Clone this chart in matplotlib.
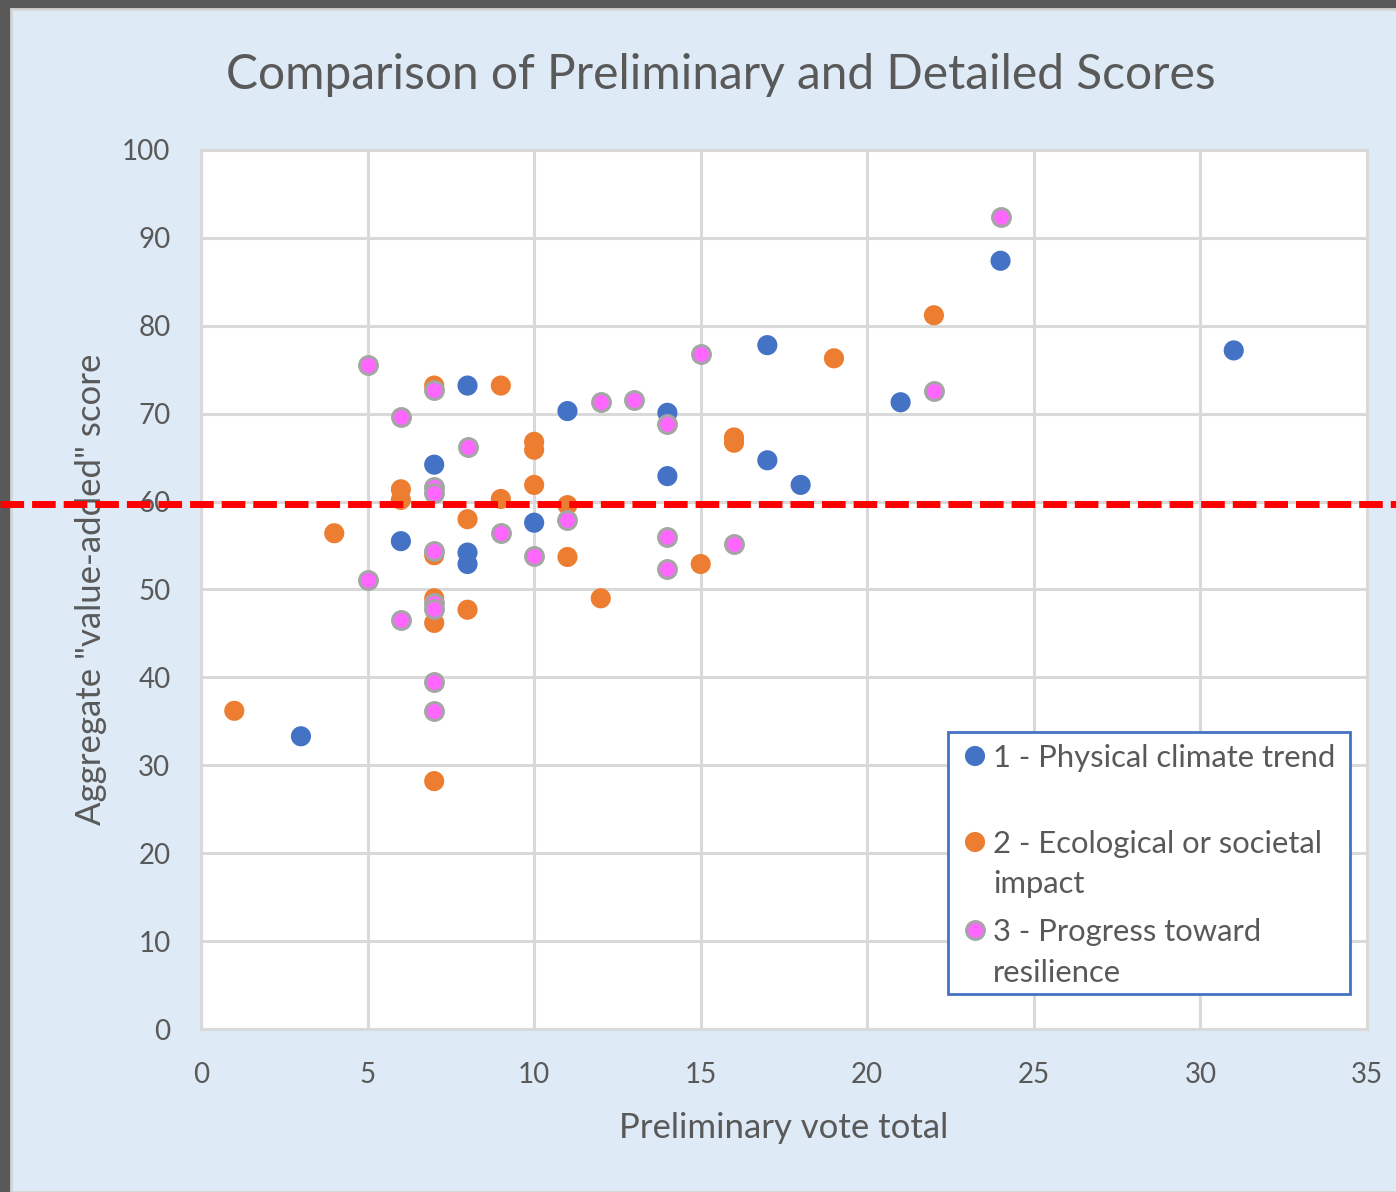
import matplotlib
matplotlib.use('Agg')
import matplotlib.pyplot as plt
from matplotlib.patches import Rectangle

plt.rcParams['font.family'] = ['Lato', 'DejaVu Sans']

# series 1 - Physical climate trend
votes_1 = [3, 6, 7, 8, 8, 8, 10, 11, 14, 14, 17, 17, 18, 21, 24, 31]
score_1 = [33.3, 55.5, 64.2, 73.2, 54.2, 52.9, 57.6, 70.3, 70.1, 62.9, 77.8, 64.7, 61.9, 71.3, 87.4, 77.2]

# series 2 - Ecological or societal impact
votes_2 = [1, 4, 6, 6, 7, 7, 7, 7, 7, 8, 8, 9, 9, 10, 10, 10, 11, 11, 12, 15, 16, 16, 19, 22]
score_2 = [36.2, 56.4, 61.4, 60.2, 73.2, 53.9, 49.0, 46.2, 28.2, 58.0, 47.7, 73.2, 60.3,
           66.8, 65.9, 61.9, 59.6, 53.7, 49.0, 52.9, 67.3, 66.7, 76.3, 81.2]

# series 3 - Progress toward resilience
votes_3 = [5, 5, 6, 6, 7, 7, 7, 7, 7, 7, 7, 7, 8, 9, 10, 11, 12, 13, 14, 14, 14, 15, 16, 22, 24]
score_3 = [75.5, 51.1, 69.6, 46.5, 72.7, 61.7, 61.0, 54.4, 48.5, 47.8, 39.5, 36.2, 66.2,
           56.4, 53.8, 57.9, 71.3, 71.6, 68.8, 56.0, 52.3, 76.8, 55.2, 72.6, 92.4]

labels = [['1 - Physical climate trend', ''],
          ['2 - Ecological or societal', 'impact'],
          ['3 - Progress toward', 'resilience']]
threshold = 59.7

grey = '#595959'
fig = plt.figure(figsize=(13.96, 11.92), dpi=100, facecolor='#595959')
bg = Rectangle((11 / 1396, 0), 1, (1192 - 9) / 1192, transform=fig.transFigure,
               facecolor='#DEEAF6', edgecolor='#D4D4D4', linewidth=2, zorder=-10)
fig.patches.append(bg)

ax = fig.add_axes([201 / 1396, 163 / 1192, 1166 / 1396, 879 / 1192])
ax.set_facecolor('white')

styles = [dict(s=210, color='#4472C4', edgecolors='none'),
          dict(s=210, color='#ED7D31', edgecolors='none'),
          dict(s=165, color='#FF66FF', edgecolors='#A5A5A5', linewidths=2.2)]

ax.scatter(votes_1, score_1, zorder=3, **styles[0])
ax.scatter(votes_2, score_2, zorder=3, **styles[1])
ax.scatter(votes_3, score_3, zorder=3, **styles[2])

ax.axhline(threshold, xmin=-0.1725, xmax=1.03, color='#FF0000', linewidth=5,
           dashes=(3.4, 1.15), clip_on=False, zorder=5)

ax.set_xlim(0, 35)
ax.set_ylim(0, 100)
ax.set_xticks(range(0, 36, 5))
ax.set_yticks(range(0, 101, 10))
ax.grid(True, color='#D9D9D9', linewidth=2.2)
ax.set_axisbelow(True)
for sp in ax.spines.values():
    sp.set_color('#D9D9D9')
    sp.set_linewidth(2.2)
ax.tick_params(length=0, colors=grey, labelsize=20)
ax.tick_params(axis='x', pad=24)
ax.tick_params(axis='y', pad=22)

ax.set_xlabel('Preliminary vote total', fontsize=25, color=grey, labelpad=17)
ax.set_ylabel('Aggregate "value-added" score', fontsize=25, color=grey, labelpad=11)
fig.text(721 / 1396, 1 - 75 / 1192, 'Comparison of Preliminary and Detailed Scores',
         fontsize=34.5, color=grey, ha='center', va='center')

# legend box drawn by hand so the marker sits on the first line of each label
def px_x(px):
    return (px - 201) / 1166

def px_y(py):
    return (1029 - py) / 879

ax.add_patch(Rectangle((px_x(948), px_y(994)), px_x(1350) - px_x(948), px_y(732) - px_y(994),
                       transform=ax.transAxes, facecolor='white', edgecolor='#4472C4',
                       linewidth=2, clip_on=False, zorder=6))
row_top = [756, 842, 930]
for lab, st, top in zip(labels, styles, row_top):
    ax.scatter([px_x(975)], [px_y(top)], transform=ax.transAxes, clip_on=False, zorder=7, **st)
    for j, line in enumerate(lab):
        ax.text(px_x(993), px_y(top + 40 * j), line, transform=ax.transAxes, fontsize=22.3,
                color=grey, ha='left', va='center_baseline', zorder=7)

fig.savefig('out.png', dpi=100, facecolor=fig.get_facecolor())
